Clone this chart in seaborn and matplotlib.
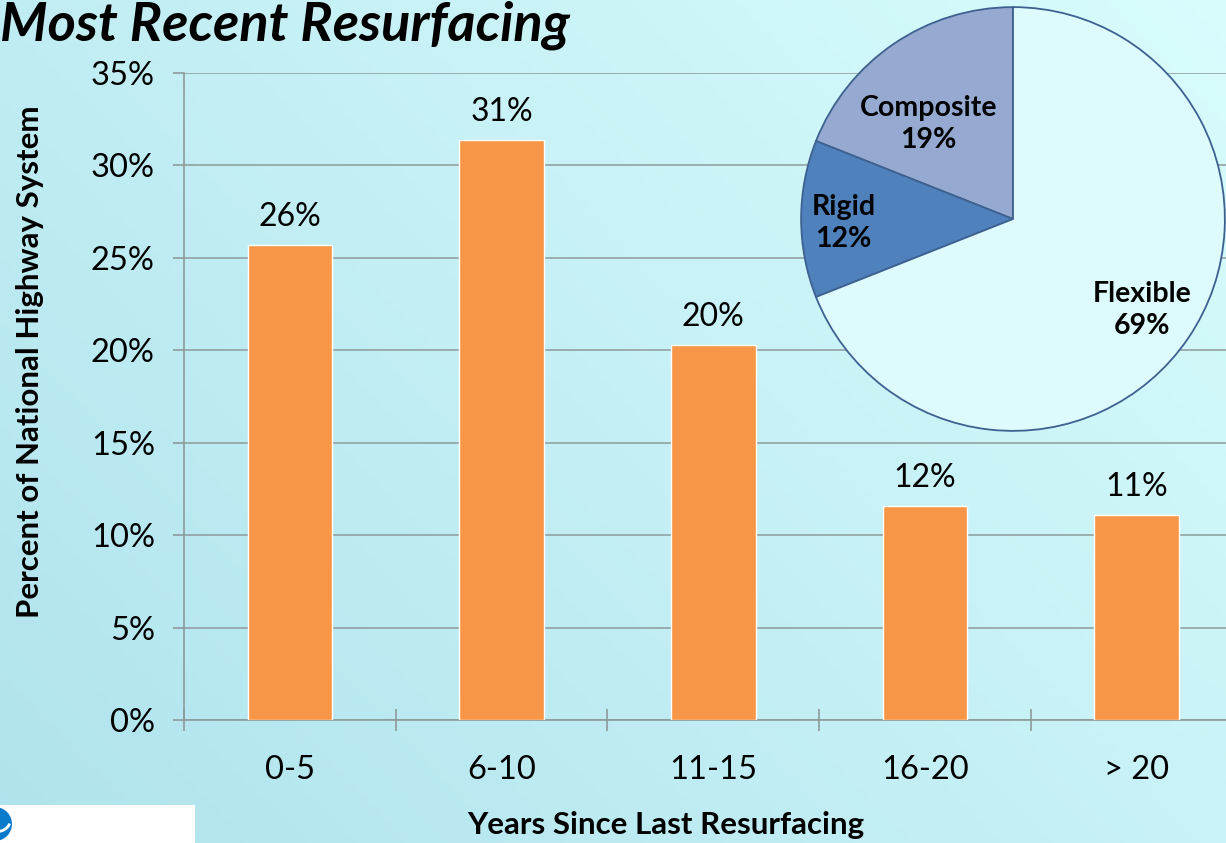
import numpy as np
import pandas as pd
import matplotlib.pyplot as plt
import seaborn as sns
from matplotlib.patches import Rectangle, Circle, Arc

# Data
years = ["0-5", "6-10", "11-15", "16-20", "> 20"]
share = [25.7, 31.4, 20.3, 11.6, 11.1]
pie_labels = ["Composite", "Rigid", "Flexible"]
pie_values = [19, 12, 69]
pie_colors = ["#95A9D1", "#4F81BD", "#DDFBFC"]

sns.set_theme(style="white")
plt.rcParams["font.family"] = ["Lato", "DejaVu Sans"]
plt.rcParams["text.color"] = "black"
plt.rcParams["axes.labelcolor"] = "black"
plt.rcParams["xtick.color"] = "black"
plt.rcParams["ytick.color"] = "black"

W, H = 1226, 843
fig = plt.figure(figsize=(W / 100, H / 100), dpi=100)

# Background gradient (light blue bottom-left to pale cyan top-right)
bg = fig.add_axes([0, 0, 1, 1], zorder=-10)
gx, gy = np.meshgrid(np.linspace(0, 1, 200), np.linspace(0, 1, 200))
t = (0.6 * gx + 0.4 * gy)
c0 = np.array([0.69, 0.89, 0.93])
c1 = np.array([0.85, 0.99, 0.99])
img = c0[None, None, :] * (1 - t[..., None]) + c1[None, None, :] * t[..., None]
bg.imshow(img, origin="lower", extent=[0, 1, 0, 1], aspect="auto")
bg.set_xlim(0, 1)
bg.set_ylim(0, 1)
bg.axis("off")

# Main bar chart
ax = fig.add_axes([184 / W, 123 / H, 1058.5 / W, 647 / H])
ax.patch.set_alpha(0)
df = pd.DataFrame({"years": years, "share": share})
sns.barplot(data=df, x="years", y="share", color="#F79646", saturation=1,
            width=0.4, edgecolor="white", linewidth=1, ax=ax, zorder=3)
ax.set_ylim(0, 35)
ax.set_xlim(-0.5, 4.5)
ax.set_yticks(np.arange(0, 36, 5))
ax.set_yticklabels([f"{v}%" for v in range(0, 36, 5)], fontsize=23.5)
ax.yaxis.grid(True, color="#8E9A9C", linewidth=1.1, zorder=0)
ax.set_axisbelow(True)
ax.set_xticks(range(len(years)))
ax.set_xticklabels(years, fontsize=23.5)
ax.set_xticks(np.arange(-0.5, 5, 1), minor=True)
ax.tick_params(axis="x", which="major", length=0, pad=25)
ax.tick_params(axis="x", which="minor", length=16, width=1.2, color="#8E9A9C",
               direction="inout", bottom=True)
ax.tick_params(axis="y", length=8, width=1.2, color="#8E9A9C", left=True,
               direction="out", pad=13)
for s in ["top", "right"]:
    ax.spines[s].set_visible(False)
for s in ["left", "bottom"]:
    ax.spines[s].set_color("#8E9A9C")
    ax.spines[s].set_linewidth(1.2)
ax.set_xlabel("Years Since Last Resurfacing", fontsize=22.5, fontweight="bold")
ax.set_ylabel("Percent of National Highway System", fontsize=22.5,
              fontweight="bold")
ax.xaxis.set_label_coords((666 - 184) / 1058.5, -(825 - 720) / 647)
ax.yaxis.set_label_coords(-(184 - 30) / 1058.5, (720 - 362) / 647)
ax.xaxis.label.set_va("center")
ax.yaxis.label.set_va("center")
ax.bar_label(ax.containers[0], fmt="{:.0f}%", fontsize=23, padding=9)

# Pie inset
pax = fig.add_axes([799 / W, 410 / H, 428 / W, 428 / H])
pax.patch.set_alpha(0)
wedges, texts = pax.pie(pie_values, colors=pie_colors, startangle=90,
                        counterclock=True, radius=1,
                        wedgeprops=dict(edgecolor="#3E6190", linewidth=1.3))
pax.set_xlim(-1.01, 1.01)
pax.set_ylim(-1.01, 1.01)
pax.set_aspect("equal")
pos = {"Composite": (-0.40, 0.45), "Rigid": (-0.80, -0.02), "Flexible": (0.61, -0.43)}
for lab, val in zip(pie_labels, pie_values):
    x, y = pos[lab]
    pax.text(x, y, f"{lab}\n{val}%", ha="center", va="center", fontsize=20.5,
             fontweight="bold", linespacing=1.3)

# Title
fig.text(0.0, 1.0 - 40 / H, "Most Recent Resurfacing", fontsize=39,
         fontweight="bold", fontstyle="italic", ha="left", va="baseline")

# Logo strip, bottom-left
fig.patches.append(Rectangle((0, 0), 195 / W, 38 / H, transform=fig.transFigure,
                             facecolor="white", edgecolor="none", zorder=5))
logo = fig.add_axes([0, 0, 40 / W, 40 / H], zorder=6)
logo.set_xlim(0, 40)
logo.set_ylim(0, 40)
logo.axis("off")
logo.add_patch(Circle((-5, 19), 17, facecolor="#0A7ACB", edgecolor="none"))
logo.add_patch(Arc((-5, 22), 30, 22, theta1=270, theta2=350, color="white", lw=2))

fig.savefig("out.png", dpi=100)
